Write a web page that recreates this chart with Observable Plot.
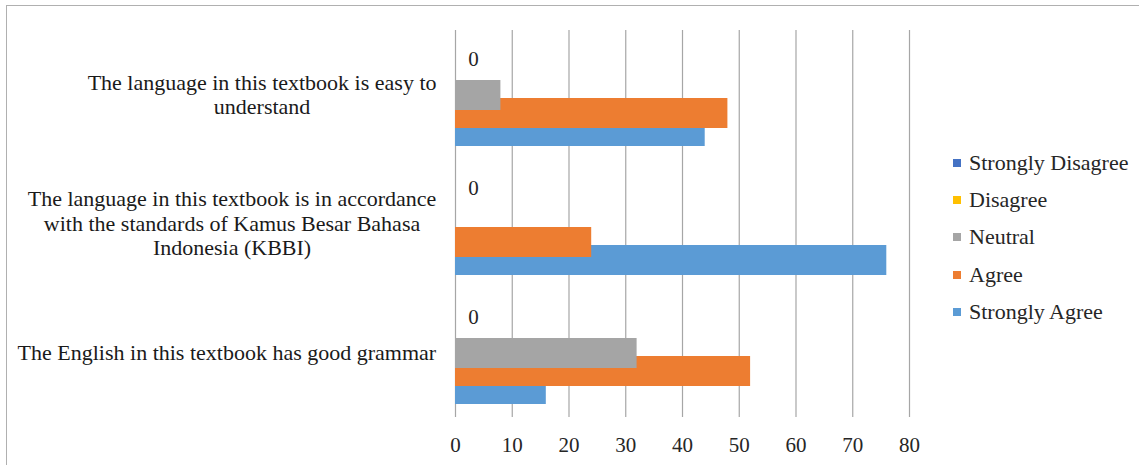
<!DOCTYPE html>
<html>
<head>
<meta charset="utf-8">
<script src="https://cdn.jsdelivr.net/npm/d3@7"></script>
<script src="https://cdn.jsdelivr.net/npm/@observablehq/plot@0.6"></script>
<style>
  html, body { margin: 0; padding: 0; background: #fff; }
  #wrap { position: relative; width: 1139px; height: 465px; overflow: hidden; font-family: "Liberation Serif", "DejaVu Serif", serif; }
  #frame { position: absolute; left: 6px; top: 5px; width: 1200px; height: 600px; border-left: 1.5px solid #b0b0b0; border-top: 1.5px solid #b0b0b0; }
  #chart { position: absolute; left: 0; top: 0; }
  #legend { position: absolute; left: 953px; top: 144px; font-size: 22px; color: #262626; }
  #legend .item { height: 37.3px; display: flex; align-items: center; white-space: nowrap; }
  #legend .sw { width: 8px; height: 8px; margin-right: 8px; display: inline-block; }
</style>
</head>
<body>
<div id="wrap"><div id="frame"></div><div id="chart"></div><div id="legend"></div></div>
<script>
const categories = [
  "The language in this textbook is easy to understand",
  "The language in this textbook is in accordance with the standards of Kamus Besar Bahasa Indonesia (KBBI)",
  "The English in this textbook has good grammar"
];
const categoryLines = [
  "The language in this textbook is easy to\nunderstand",
  "The language in this textbook is in accordance\nwith the standards of Kamus Besar Bahasa\nIndonesia (KBBI)",
  "The English in this textbook has good grammar"
];
const series = ["Strongly Disagree", "Disagree", "Neutral", "Agree", "Strongly Agree"];
const colors = ["#4472C4", "#FFC000", "#A5A5A5", "#ED7D31", "#5B9BD5"];
const stronglyDisagree = [0, 0, 0];
const disagree = [0, 0, 0];
const neutral = [8, 0, 32];
const agree = [48, 24, 52];
const stronglyAgree = [44, 76, 16];
const xTicks = [0, 10, 20, 30, 40, 50, 60, 70, 80];

const valuesBySeries = [stronglyDisagree, disagree, neutral, agree, stronglyAgree];
const rows = [];
series.forEach((s, si) => categories.forEach((c, ci) => rows.push({category: c, series: s, value: valuesBySeries[si][ci]})));
// draw lower series first so upper bars overlap them
const drawRows = rows.slice().sort((a, b) => series.indexOf(b.series) - series.indexOf(a.series));
const labelRows = rows.filter(d => d.series === "Strongly Disagree");
const catRows = categories.map((c, i) => ({category: c, label: categoryLines[i]}));

const chart = Plot.plot({
  width: 1139,
  height: 465,
  marginLeft: 455,
  marginRight: 230,
  marginTop: 30,
  marginBottom: 48,
  style: {fontFamily: "Liberation Serif, DejaVu Serif, serif", fontSize: "21px", color: "#262626", background: "transparent"},
  x: {domain: [0, 80], ticks: xTicks, axis: null},
  y: {domain: series, paddingInner: 0, paddingOuter: 0.895, axis: null},
  fy: {domain: categories, padding: 0, axis: null},
  color: {domain: series, range: colors},
  marks: [
    Plot.ruleX(xTicks, {stroke: "#a6a6a6", strokeWidth: 1.2}),
    Plot.barX(drawRows, {fy: "category", y: "series", x: "value", fill: "series", insetTop: -6, insetBottom: -6}),
    Plot.text(labelRows, {fy: "category", y: "series", x: "value", text: d => String(d.value), dx: 18, fontSize: 21, fill: "#262626"}),
    Plot.text(catRows, {fy: "category", text: "label", frameAnchor: "left", textAnchor: "end", dx: -19, dy: -1, lineHeight: 1.11, fontSize: 22, fill: "#1a1a1a", className: "catlabel"}),
    Plot.ruleY([0], {fy: [categories[2]], frameAnchor: "bottom", stroke: "#a6a6a6", strokeWidth: 1.2}),
    Plot.axisX({ticks: xTicks, tickSize: 0, tickPadding: 20, fontSize: 21, fill: "#262626", label: null, facetAnchor: "bottom"}),
  ]
});
document.getElementById("chart").appendChild(chart);

// center-align the multi-line category labels, keeping the longest line's right edge in place
chart.querySelectorAll(".catlabel text").forEach(t => {
  const w = t.getBBox().width;
  t.setAttribute("text-anchor", "middle");
  t.setAttribute("transform", (t.getAttribute("transform") || "") + ` translate(${-w / 2},0)`);
});

const legend = document.getElementById("legend");
series.forEach((s, i) => {
  const item = document.createElement("div");
  item.className = "item";
  const sw = document.createElement("span");
  sw.className = "sw";
  sw.style.background = colors[i];
  item.appendChild(sw);
  item.appendChild(document.createTextNode(s));
  legend.appendChild(item);
});
</script>
</body>
</html>
